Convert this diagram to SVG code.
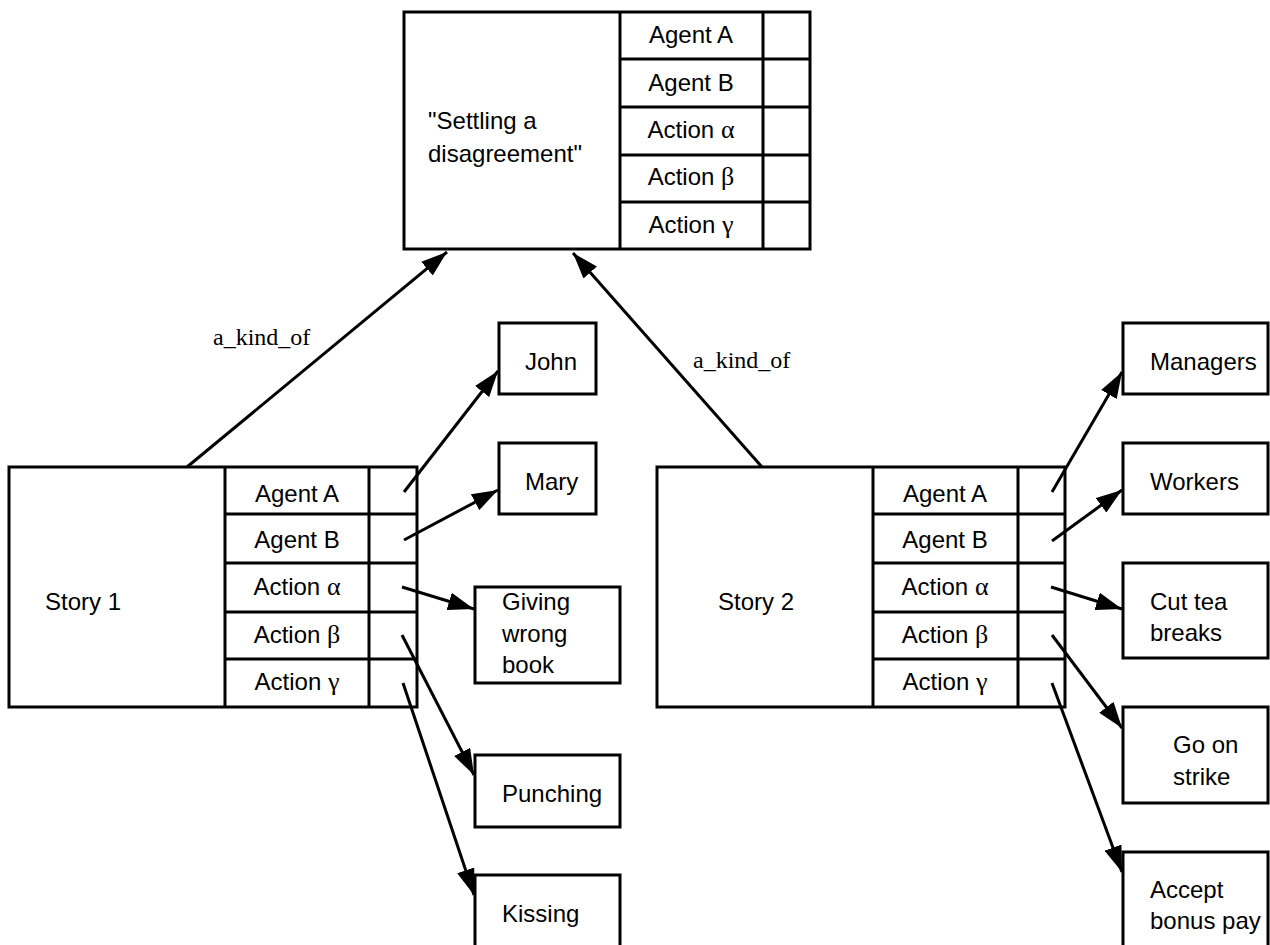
<svg xmlns="http://www.w3.org/2000/svg" width="1270" height="945" viewBox="0 0 1270 945">
<style>
.box{fill:#fff;stroke:#000;stroke-width:3}
.ln{stroke:#000;stroke-width:3;fill:none}
.t{font-family:"Liberation Sans",Arial,sans-serif;font-size:24px;fill:#000}
.c{text-anchor:middle}
.g{font-family:"Liberation Serif","Times New Roman",serif;font-size:26px}
.lbl{font-family:"Liberation Serif","Times New Roman",serif;font-size:24px;fill:#000}
.arr{stroke:#000;stroke-width:3;fill:none;marker-end:url(#ah)}
</style>
<defs>
<marker id="ah" markerUnits="userSpaceOnUse" markerWidth="27" markerHeight="18" refX="26" refY="9" orient="auto">
<path d="M0,0 L26,9 L0,18 z" fill="#000"/>
</marker>
</defs>
<rect width="1270" height="945" fill="#fff"/>

<g id="settling">
<rect class="box" x="404" y="12" width="406" height="237"/>
<line class="ln" x1="620" y1="12" x2="620" y2="249"/>
<line class="ln" x1="763" y1="12" x2="763" y2="249"/>
<line class="ln" x1="620" y1="59" x2="810" y2="59"/>
<line class="ln" x1="620" y1="107" x2="810" y2="107"/>
<line class="ln" x1="620" y1="155" x2="810" y2="155"/>
<line class="ln" x1="620" y1="202" x2="810" y2="202"/>
<text class="t" x="428" y="129">"Settling a</text>
<text class="t" x="428" y="162">disagreement"</text>
<text class="t c" x="691" y="43">Agent A</text>
<text class="t c" x="691" y="91">Agent B</text>
<text class="t c" x="691" y="138">Action <tspan class="g">α</tspan></text>
<text class="t c" x="691" y="185">Action <tspan class="g">β</tspan></text>
<text class="t c" x="691" y="233">Action <tspan class="g">γ</tspan></text>
</g>

<g id="story1">
<rect class="box" x="9" y="467" width="408" height="240"/>
<line class="ln" x1="225" y1="467" x2="225" y2="707"/>
<line class="ln" x1="369" y1="467" x2="369" y2="707"/>
<line class="ln" x1="225" y1="514" x2="417" y2="514"/>
<line class="ln" x1="225" y1="563" x2="417" y2="563"/>
<line class="ln" x1="225" y1="612" x2="417" y2="612"/>
<line class="ln" x1="225" y1="659" x2="417" y2="659"/>
<text class="t" x="45" y="610">Story 1</text>
<text class="t c" x="297" y="502">Agent A</text>
<text class="t c" x="297" y="548">Agent B</text>
<text class="t c" x="297" y="595">Action <tspan class="g">α</tspan></text>
<text class="t c" x="297" y="643">Action <tspan class="g">β</tspan></text>
<text class="t c" x="297" y="690">Action <tspan class="g">γ</tspan></text>
</g>

<g id="story2">
<rect class="box" x="657" y="467" width="408" height="240"/>
<line class="ln" x1="873" y1="467" x2="873" y2="707"/>
<line class="ln" x1="1018" y1="467" x2="1018" y2="707"/>
<line class="ln" x1="873" y1="514" x2="1065" y2="514"/>
<line class="ln" x1="873" y1="563" x2="1065" y2="563"/>
<line class="ln" x1="873" y1="612" x2="1065" y2="612"/>
<line class="ln" x1="873" y1="659" x2="1065" y2="659"/>
<text class="t" x="718" y="610">Story 2</text>
<text class="t c" x="945" y="502">Agent A</text>
<text class="t c" x="945" y="548">Agent B</text>
<text class="t c" x="945" y="595">Action <tspan class="g">α</tspan></text>
<text class="t c" x="945" y="643">Action <tspan class="g">β</tspan></text>
<text class="t c" x="945" y="690">Action <tspan class="g">γ</tspan></text>
</g>

<g id="john"><rect class="box" x="499" y="323" width="97" height="71"/><text class="t" x="525" y="370">John</text></g>
<g id="mary"><rect class="box" x="499" y="443" width="97" height="71"/><text class="t" x="525" y="490">Mary</text></g>
<g id="giving"><rect class="box" x="475" y="587" width="145" height="96"/>
<text class="t" x="502" y="610">Giving</text><text class="t" x="502" y="642">wrong</text><text class="t" x="502" y="673">book</text></g>
<g id="punching"><rect class="box" x="475" y="755" width="145" height="72"/><text class="t" x="502" y="802">Punching</text></g>
<g id="kissing"><rect class="box" x="475" y="875" width="145" height="80"/><text class="t" x="502" y="922">Kissing</text></g>

<g id="managers"><rect class="box" x="1123" y="323" width="145" height="71"/><text class="t" x="1150" y="370">Managers</text></g>
<g id="workers"><rect class="box" x="1123" y="443" width="145" height="71"/><text class="t" x="1150" y="490">Workers</text></g>
<g id="cuttea"><rect class="box" x="1123" y="563" width="145" height="95"/>
<text class="t" x="1150" y="610">Cut tea</text><text class="t" x="1150" y="641">breaks</text></g>
<g id="strike"><rect class="box" x="1123" y="707" width="145" height="96"/>
<text class="t" x="1173" y="753">Go on</text><text class="t" x="1173" y="785">strike</text></g>
<g id="bonus"><rect class="box" x="1123" y="852" width="145" height="100"/>
<text class="t" x="1150" y="898">Accept</text><text class="t" x="1150" y="929">bonus pay</text></g>

<g id="connectors">
<line class="arr" x1="187" y1="467" x2="447" y2="252"/>
<line class="arr" x1="762" y1="467" x2="573" y2="253"/>
<text class="lbl" x="213" y="345">a_kind_of</text>
<text class="lbl" x="693" y="368">a_kind_of</text>
<line class="arr" x1="404" y1="492" x2="498" y2="371"/>
<line class="arr" x1="404" y1="540" x2="498" y2="490"/>
<line class="arr" x1="402" y1="587" x2="474" y2="609"/>
<line class="arr" x1="402" y1="635" x2="474" y2="775"/>
<line class="arr" x1="403" y1="683" x2="474" y2="895"/>
<line class="arr" x1="1052" y1="492" x2="1122" y2="372"/>
<line class="arr" x1="1052" y1="541" x2="1122" y2="490"/>
<line class="arr" x1="1051" y1="587" x2="1122" y2="609"/>
<line class="arr" x1="1052" y1="635" x2="1122" y2="728"/>
<line class="arr" x1="1052" y1="683" x2="1122" y2="872"/>
</g>
</svg>
